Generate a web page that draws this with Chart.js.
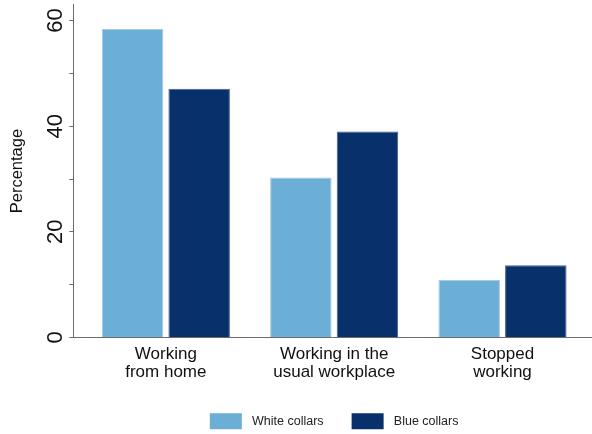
<!DOCTYPE html>
<html><head><meta charset="utf-8">
<script src="https://cdn.jsdelivr.net/npm/chart.js@4/dist/chart.umd.min.js"></script>
<style>html,body{margin:0;padding:0;background:#fff}#wrap{width:592px;height:434px;position:relative}</style>
</head><body><div id="wrap"><canvas id="c"></canvas></div>
<script>
const categories = [['Working', 'from home'], ['Working in the', 'usual workplace'], ['Stopped', 'working']];
const seriesNames = ['White collars', 'Blue collars'];
const whiteCollars = [58.4, 30.3, 10.9];
const blueCollars = [47.1, 39.0, 13.7];
const yTickValues = [0, 10, 20, 30, 40, 50, 60];
const yTickLabels = ['0', '', '20', '', '40', '', '60'];
const yAxisTitle = 'Percentage';

const FONT = "'Liberation Sans', Arial, Helvetica, sans-serif";
Chart.defaults.font.family = FONT;
Chart.defaults.color = '#111';

const toPoints = arr => arr.map((v, i) => ({x: i, y: v}));

new Chart(document.getElementById('c'), {
  type: 'bar',
  data: {datasets: [
    {label: seriesNames[0], data: toPoints(whiteCollars), backgroundColor: '#6baed6', borderColor: '#a3cce5', borderWidth: 1, categoryPercentage: 0.7915, barPercentage: 0.923},
    {label: seriesNames[1], data: toPoints(blueCollars), backgroundColor: '#08306b', borderColor: '#3f5f90', borderWidth: 1, categoryPercentage: 0.7915, barPercentage: 0.923}
  ]},
  options: {
    responsive: true, maintainAspectRatio: false, animation: false, devicePixelRatio: 1,
    layout: {padding: {top: 4.7, right: 1, bottom: 0, left: 0}},
    plugins: {
      tooltip: {enabled: false},
      legend: {position: 'bottom', fullSize: false, maxHeight: 48.7,
        labels: {boxWidth: 40, boxHeight: 24, padding: 24, color: '#222', font: {size: 12.5},
          generateLabels(chart) {
            const items = Chart.defaults.plugins.legend.labels.generateLabels(chart);
            items.forEach(it => { it.strokeStyle = '#fff'; it.lineWidth = 8; });
            return items;
          }}}
    },
    scales: {
      x: {type: 'linear', min: -0.5498, max: 2.5257, offset: false,
        grid: {display: false, drawTicks: false, offset: false},
        border: {display: true, color: '#6b6b6b', width: 1},
        afterBuildTicks(s) { s.ticks = categories.map((_, i) => ({value: i})); },
        afterFit(s) { s.height = 47.8; s.paddingLeft = 0; s.paddingRight = 0; },
        ticks: {autoSkip: false, maxRotation: 0, minRotation: 0, padding: 8, color: '#111', font: {size: 17, lineHeight: 1.035}, callback: (v) => categories[v]}
      },
      y: {min: 0, max: 63,
        grid: {display: true, drawOnChartArea: false, drawTicks: true, tickLength: 4, color: '#6b6b6b'},
        border: {display: true, color: '#6b6b6b', width: 1},
        afterBuildTicks(s) { s.ticks = yTickValues.map(v => ({value: v})); },
        afterFit(s) { s.width = 73.3; s.paddingTop = 0; s.paddingBottom = 0; },
        ticks: {autoSkip: false, minRotation: 90, maxRotation: 90, crossAlign: 'center', padding: 0.8, font: {size: 22}, color: '#111', callback: (v, i) => yTickLabels[i]},
        title: {display: true, text: yAxisTitle, font: {size: 16.5}, color: '#111', padding: {top: 7.6, bottom: 0}}
      }
    }
  }
});
</script></body></html>
